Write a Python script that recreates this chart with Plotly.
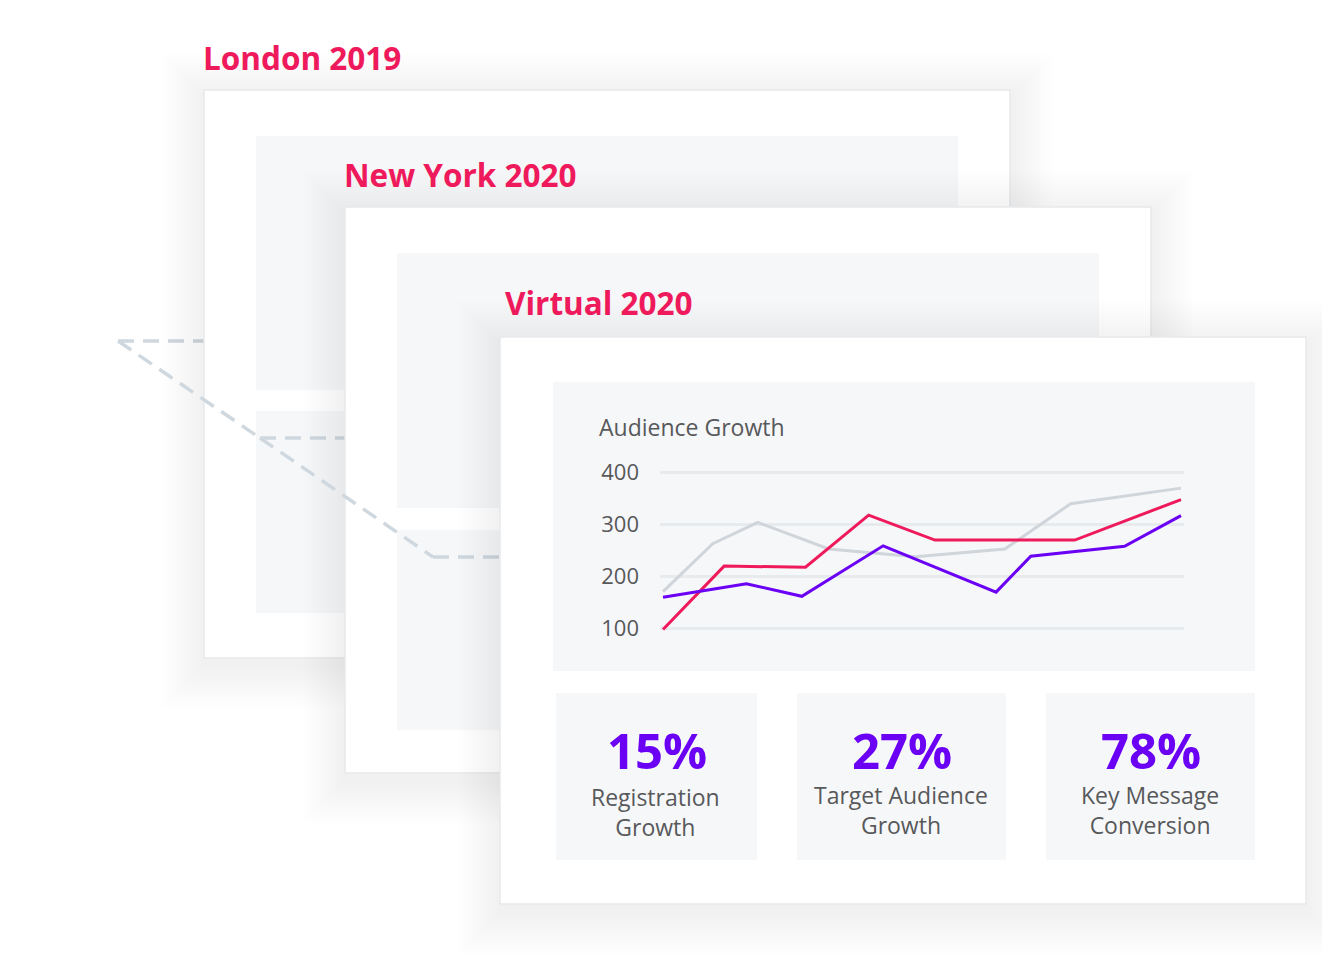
import plotly.graph_objects as go

# --- dados ---
event_titles = ["London 2019", "New York 2020", "Virtual 2020"]
chart_title = "Audience Growth"
y_ticks = [100, 200, 300, 400]

gray_x = [0, 0.96, 1.83, 3.2, 4.87, 6.6, 7.87, 10]
gray_y = [170, 262, 303, 252, 237, 252, 339, 369]

red_x = [0, 1.18, 2.75, 3.97, 5.25, 7.95, 10]
red_y = [97, 219, 217, 317, 269, 269, 347]

purple_x = [0, 1.61, 2.68, 4.25, 6.43, 7.1, 8.91, 10]
purple_y = [159, 185, 161, 258, 169, 238, 257, 316]

stat_values = ["15%", "27%", "78%"]
stat_labels = ["Registration<br>Growth", "Target Audience<br>Growth", "Key Message<br>Conversion"]

W, H = 1330, 980
OFF = 8  # margem do body da página
PINK = "#ee1a5b"
PURPLE = "#6a00f4"
LIGHT = "#d0d8df"
TXT = "#58595b"
PANEL = "#f6f7f9"
FONT = "Open Sans"


def px(p):
    return (p - OFF) / W


def py(p):
    return 1 - (p - OFF) / H


def rect(x0, y0, x1, y1, fill, line=None, lw=0):
    return dict(type="rect", xref="paper", yref="paper", layer="below",
                x0=px(x0), x1=px(x1), y0=py(y1), y1=py(y0),
                fillcolor=fill, line=dict(color=line or fill, width=lw))


def seg(x0, y0, x1, y1):
    return dict(type="line", xref="paper", yref="paper", layer="below",
                x0=px(x0), x1=px(x1), y0=py(y0), y1=py(y1),
                line=dict(color=LIGHT, width=3.5, dash="16px,9px"))


def shadow(x0, y0, x1, y1):
    out = []
    for i in range(14, 0, -1):
        e = 3 * i
        out.append(rect(x0 - e, y0 - e + 6, x1 + e, y1 + e + 8,
                        "rgba(60,70,90,0.005)"))
    return out


def card(x0, y0, x1, y1):
    return shadow(x0, y0, x1, y1) + [rect(x0, y0, x1, y1, "white", "#e6e9ec", 1.5)]


shapes = []
shapes.append(seg(118, 341, 204, 341))
# cartão 1
shapes += card(204, 90, 1010, 658)
shapes.append(rect(256, 136, 958, 390, PANEL))
shapes.append(rect(256, 411, 958, 613, PANEL))
shapes.append(seg(118, 341, 260, 438))
shapes.append(seg(260, 438, 345, 438))
# cartão 2
shapes += card(345, 207, 1151, 773)
shapes.append(rect(397, 253, 1099, 508, PANEL))
shapes.append(rect(397, 530, 1099, 730, PANEL))
shapes.append(seg(260, 438, 433, 557))
shapes.append(seg(433, 557, 500, 557))
# cartão 3
shapes += card(500, 337, 1306, 904)
shapes.append(rect(553, 382, 1255, 671, PANEL))
stat_boxes = [(556, 757), (797, 1006), (1046, 1255)]
for bx0, bx1 in stat_boxes:
    shapes.append(rect(bx0, 693, bx1, 860, PANEL))

fig = go.Figure()
fig.add_trace(go.Scatter(x=gray_x, y=gray_y, mode="lines",
                         line=dict(color="#cfd5db", width=3)))
fig.add_trace(go.Scatter(x=red_x, y=red_y, mode="lines",
                         line=dict(color=PINK, width=3)))
fig.add_trace(go.Scatter(x=purple_x, y=purple_y, mode="lines",
                         line=dict(color=PURPLE, width=3)))

annotations = []
title_pos = [(201, 57), (342, 175), (503, 302)]
for t, (tx, ty) in zip(event_titles, title_pos):
    annotations.append(dict(text="<b>" + t + "</b>", x=px(tx), y=py(ty),
                            xref="paper", yref="paper", xanchor="left", yanchor="middle",
                            showarrow=False, font=dict(family=FONT, size=31.5, color=PINK)))
annotations.append(dict(text=chart_title, x=px(597), y=py(427), xref="paper", yref="paper",
                        xanchor="left", yanchor="middle", showarrow=False,
                        font=dict(family=FONT, size=23, color=TXT)))
label_y = [812, 810, 810]
for (bx0, bx1), v, lab, ly in zip(stat_boxes, stat_values, stat_labels, label_y):
    cx = (bx0 + bx1) / 2
    annotations.append(dict(text="<b>" + v + "</b>", x=px(cx), y=py(750),
                            xref="paper", yref="paper", xanchor="center", yanchor="middle",
                            showarrow=False, font=dict(family=FONT, size=49, color=PURPLE)))
    annotations.append(dict(text=lab, x=px(cx - 1), y=py(ly), xref="paper", yref="paper",
                            xanchor="center", yanchor="middle", showarrow=False,
                            font=dict(family=FONT, size=23, color=TXT)))

fig.update_layout(
    width=W, height=H,
    margin=dict(l=0, r=0, t=0, b=0),
    paper_bgcolor="white",
    plot_bgcolor="rgba(0,0,0,0)",
    showlegend=False,
    shapes=shapes,
    annotations=annotations,
    xaxis=dict(domain=[px(660), px(1184)], range=[-0.058, 10.058],
               showgrid=False, zeroline=False, showticklabels=False, fixedrange=True),
    yaxis=dict(domain=[py(645), py(455)], range=[67.3, 432.7],
               tickvals=y_ticks, showgrid=True, gridcolor="#e8ebee", gridwidth=2.5,
               zeroline=False, showline=False, ticks="", ticklabelstandoff=20,
               tickfont=dict(family=FONT, size=22, color=TXT), fixedrange=True),
)

fig.write_html("out.html")
